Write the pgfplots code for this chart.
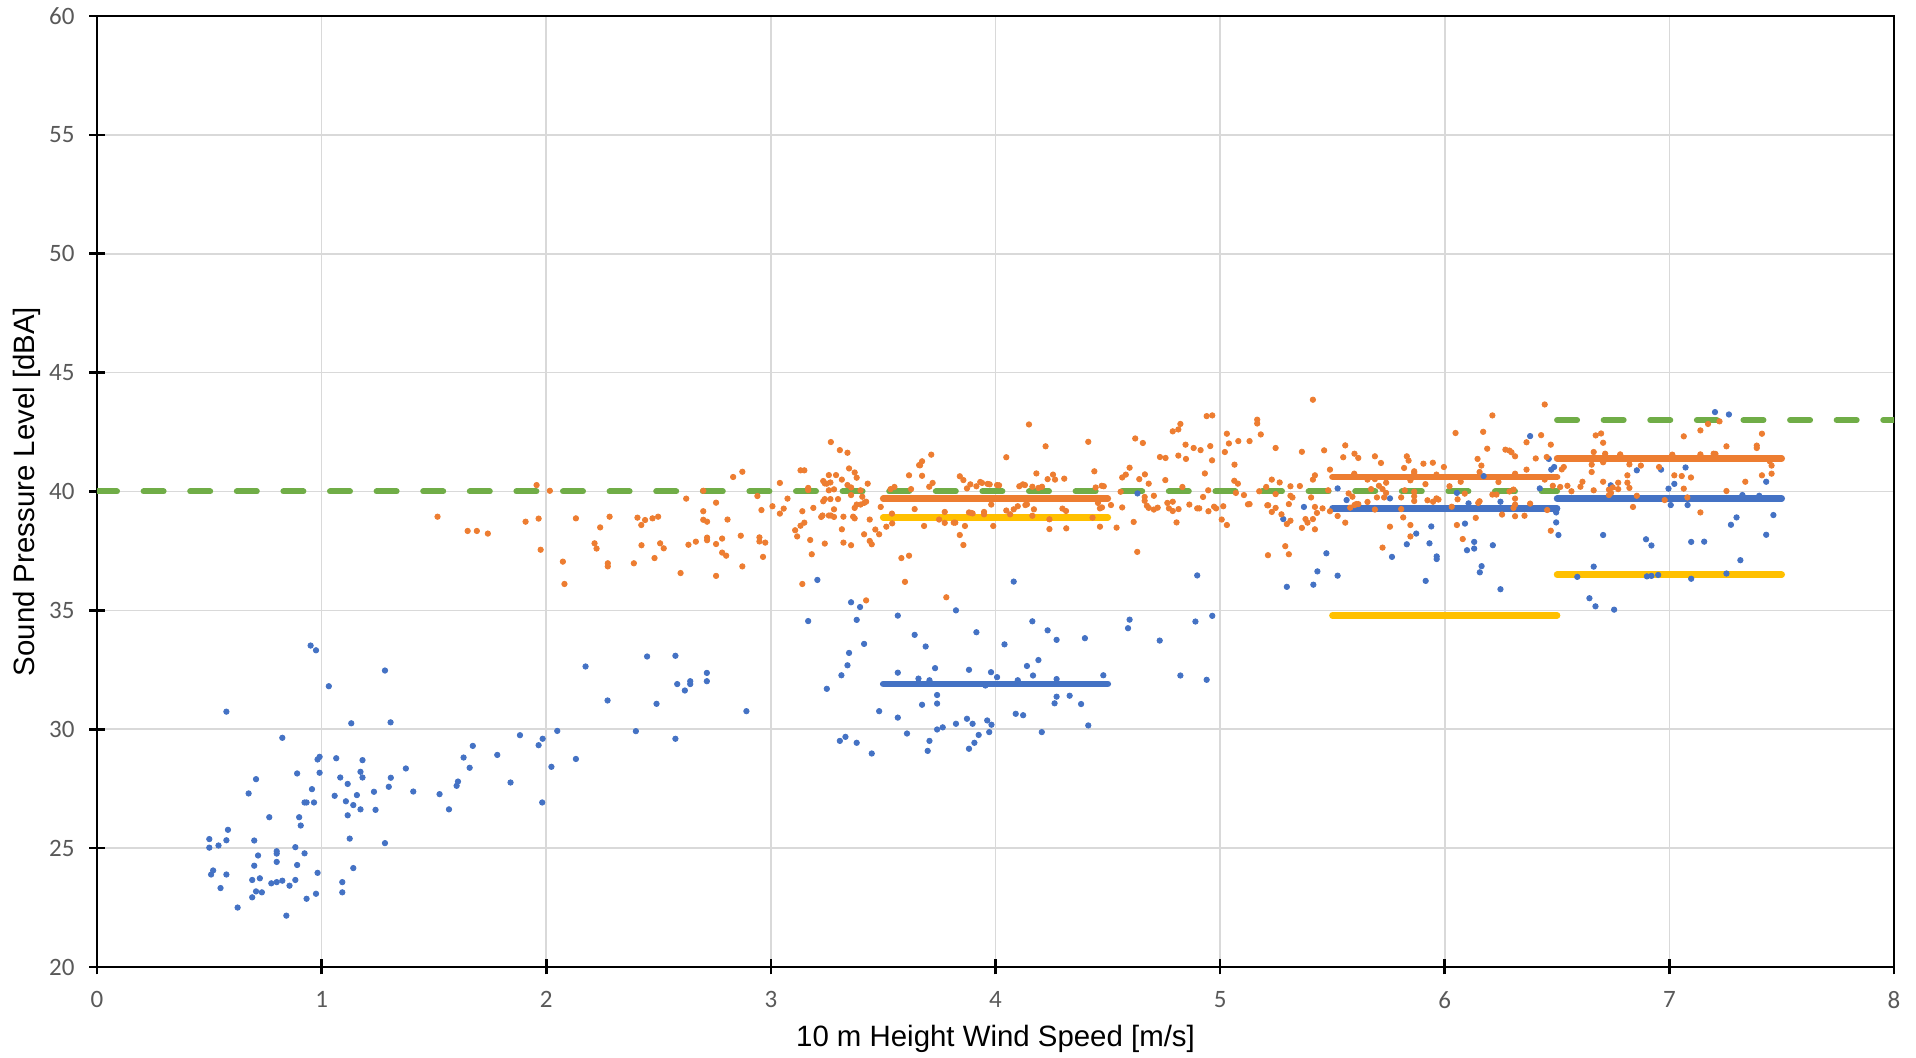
\documentclass[border=0pt]{standalone}
\usepackage{fontspec}
\setmainfont{Liberation Sans}
\newfontfamily\tickfont{Carlito}
\usepackage{pgfplots}
\pgfplotsset{compat=1.18}

\definecolor{xlblue}{HTML}{4472C4}
\definecolor{xlorange}{HTML}{ED7D31}
\definecolor{xlyellow}{HTML}{FFC000}
\definecolor{xlgreen}{HTML}{70AD47}
\definecolor{gridgray}{HTML}{D9D9D9}
\definecolor{tickgray}{HTML}{595959}

\begin{document}
\begin{tikzpicture}
\begin{axis}[
    scale only axis,
    width=898.5pt, height=475.5pt,
    xmin=0, xmax=8, ymin=20, ymax=60,
    xtick={0,1,...,8}, ytick={20,25,...,60},
    grid=major,
    major grid style={draw=gridgray, line width=0.8pt},
    axis line style={black, line width=1.3pt},
    tick align=center, tick pos=left,
    major tick length=7.5pt,
    tick style={black, line width=1.3pt},
    /pgf/number format/assume math mode=true,
    ticklabel style={font=\tickfont\fontsize{12.5}{14}\selectfont, text=tickgray},
    yticklabel style={xshift=-4pt},
    xticklabel style={yshift=-5pt},
    xlabel={10 m Height Wind Speed [m/s]},
    ylabel={Sound Pressure Level [dBA]},
    label style={font=\fontsize{14.7}{17}\selectfont, text=black},
    xlabel style={at={(axis description cs:0.5,-0.0757)}, anchor=center},
    ylabel style={at={(axis description cs:-0.039,0.5)}, anchor=center},
]
\coordinate (bl) at (rel axis cs:0,0);
\coordinate (tr) at (rel axis cs:1,1);

% limit lines
\addplot[xlgreen, line width=3pt, line cap=round, dash pattern=on 10pt off 13.3pt]
    coordinates {(0,40) (6.5,40)};
\addplot[xlgreen, line width=3pt, line cap=round, dash pattern=on 10pt off 13.3pt]
    coordinates {(6.5,43) (8,43)};

% bin averages
\addplot[xlyellow, line width=3.3pt, line cap=round] coordinates {(3.5,38.91) (4.5,38.91)};
\addplot[xlyellow, line width=3.3pt, line cap=round] coordinates {(5.5,34.79) (6.5,34.79)};
\addplot[xlyellow, line width=3.3pt, line cap=round] coordinates {(6.5,36.50) (7.5,36.50)};
\addplot[xlblue, line width=3.3pt, line cap=round] coordinates {(3.5,31.91) (4.5,31.91)};
\addplot[xlblue, line width=3.3pt, line cap=round] coordinates {(5.5,39.29) (6.5,39.29)};
\addplot[xlblue, line width=3.3pt, line cap=round] coordinates {(6.5,39.70) (7.5,39.70)};
\addplot[xlorange, line width=3.3pt, line cap=round] coordinates {(3.5,39.70) (4.5,39.70)};
\addplot[xlorange, line width=3.3pt, line cap=round] coordinates {(5.5,40.61) (6.5,40.61)};
\addplot[xlorange, line width=3.3pt, line cap=round] coordinates {(6.5,41.39) (7.5,41.39)};

% background noise measurements
\addplot[only marks, mark=*, mark size=1.35pt, xlblue, mark options={draw=none, fill=xlblue}]
coordinates {
(0.951,33.52) (0.975,33.32) (1.282,32.47) (1.032,31.81) (0.576,30.74) (1.132,30.25)
(1.307,30.29) (0.825,29.64) (2.175,32.64) (2.049,29.93) (1.984,29.60) (1.966,29.33)
(1.883,29.75) (1.782,28.92) (1.673,29.30) (1.632,28.81) (1.659,28.38) (1.607,27.80)
(1.601,27.62) (1.525,27.27) (1.567,26.63) (1.841,27.76) (2.023,28.42) (2.132,28.75)
(1.982,26.92) (1.375,28.35) (1.408,27.38) (1.308,27.96) (1.299,27.58) (1.233,27.37)
(1.240,26.61) (1.173,28.21) (1.182,28.70) (1.182,27.97) (1.157,27.23) (1.141,26.81)
(1.173,26.63) (1.108,26.97) (1.116,27.70) (1.116,26.38) (1.083,27.97) (1.065,28.78)
(0.991,28.84) (0.982,28.73) (0.991,28.17) (1.058,27.20) (0.957,27.48) (0.966,26.92)
(0.924,26.92) (0.933,26.92) (0.900,26.30) (0.907,25.95) (0.891,28.14) (0.767,26.30)
(0.708,27.90) (0.675,27.30) (1.125,25.40) (1.282,25.21) (1.141,24.16) (1.092,23.57)
(1.092,23.14) (0.982,23.96) (0.975,23.08) (0.933,22.87) (0.883,25.04) (0.924,24.78)
(0.891,24.29) (0.883,23.66) (0.857,23.42) (0.843,22.16) (0.825,23.63) (0.800,23.57)
(0.776,23.52) (0.800,24.87) (0.800,24.77) (0.800,24.42) (0.734,23.14) (0.708,23.18)
(0.691,22.93) (0.691,23.66) (0.725,23.73) (0.700,24.26) (0.717,24.69) (0.700,25.32)
(0.626,22.50) (0.550,23.32) (0.576,23.89) (0.576,25.33) (0.583,25.77) (0.541,25.11)
(0.500,25.38) (0.500,25.02) (0.508,23.89) (0.517,24.06)
(2.273,31.21) (2.491,31.07) (2.449,33.06) (2.575,33.09) (2.583,31.90) (2.617,31.63)
(2.641,32.02) (2.641,31.90) (2.715,32.37) (2.715,32.02) (2.891,30.76) (2.399,29.92)
(2.575,29.60) (3.207,36.28) (3.357,35.34) (3.397,35.14) (3.382,34.60) (3.166,34.55)
(3.565,34.78) (3.640,33.97) (3.415,33.59) (3.348,33.21) (3.341,32.69) (3.314,32.27)
(3.249,31.70) (3.565,32.38) (3.482,30.76) (3.565,30.49) (3.606,29.82) (3.307,29.51)
(3.332,29.68) (3.382,29.43) (3.449,28.98)
(3.689,33.48) (3.824,35.00) (3.915,34.08) (3.657,32.13) (3.731,32.57) (3.740,31.44)
(3.740,31.08) (3.673,31.03) (3.882,32.50) (3.980,32.40) (4.007,32.19) (3.955,31.84)
(3.706,32.06) (3.740,29.99) (3.765,30.08) (3.824,30.23) (3.873,30.44) (3.898,30.23)
(3.963,30.37) (3.982,30.19) (3.925,29.76) (3.972,29.88) (3.906,29.43) (3.882,29.18)
(3.706,29.51) (3.698,29.09) (4.081,36.21) (4.040,33.57) (4.164,34.54) (4.232,34.16)
(4.272,33.76) (4.398,33.83) (4.140,32.66) (4.191,32.91) (4.167,32.26) (4.099,32.06)
(4.272,32.11) (4.480,32.27) (4.272,31.37) (4.263,31.09) (4.330,31.41) (4.381,31.06)
(4.413,30.16) (4.090,30.65) (4.123,30.59) (4.206,29.88) (4.590,34.25) (4.597,34.61)
(4.731,33.73) (4.823,32.26) (4.890,34.53) (4.965,34.77) (4.940,32.08) (4.898,36.47)
(4.632,39.92)
(5.297,35.99) (5.415,36.08) (5.433,36.64) (5.473,37.40) (5.523,36.46) (5.281,38.84)
(5.373,39.35) (5.523,40.13) (5.563,39.64) (5.756,39.71) (5.765,37.25) (5.831,37.78)
(5.873,38.23) (5.915,36.24) (5.932,37.82) (5.940,38.53) (5.964,37.27) (5.964,37.16)
(6.054,39.94) (6.090,38.65) (6.099,37.53) (6.106,39.50) (6.131,37.88) (6.131,37.60)
(6.164,36.86) (6.156,36.60) (6.173,40.65) (6.214,37.74) (6.248,35.89) (6.248,39.57)
(6.380,42.33) (6.423,40.13) (6.463,41.37) (6.474,40.92) (6.487,41.03) (6.496,39.12)
(6.496,38.70) (6.506,38.17) (6.663,36.84) (6.590,36.41) (6.644,35.51) (6.671,35.17)
(6.754,35.03) (6.705,38.17) (6.739,40.26) (6.855,40.89) (6.896,37.99) (6.920,37.73)
(6.900,36.43) (6.920,36.45) (6.963,40.92)
(6.996,40.12) (7.022,40.32) (7.006,39.43) (7.072,41.01) (7.081,39.43) (7.097,37.88)
(7.155,37.89) (7.097,36.33) (6.950,36.49) (7.203,43.34) (7.265,43.24) (7.274,38.60)
(7.299,38.91) (7.316,37.11) (7.254,36.55) (7.431,40.41) (7.431,38.18) (7.463,39.01)
(7.400,39.82) (7.325,39.85)
};

% total noise measurements
\addplot[only marks, mark=*, mark size=1.35pt, xlorange, mark options={draw=none, fill=xlorange}]
coordinates {
(1.516,38.94) (1.650,38.34) (1.691,38.34) (1.740,38.23) (1.908,38.73) (1.957,40.27)
(1.966,38.86) (1.975,37.55) (2.016,40.03) (2.074,37.05) (2.081,36.11) (2.132,38.87)
(2.240,38.49) (2.282,38.94) (2.215,37.82) (2.224,37.60) (2.274,36.98) (2.274,36.85)
(2.390,36.98) (2.406,38.90) (2.440,38.80) (2.423,38.59) (2.473,38.87) (2.498,38.94)
(2.424,37.74) (2.507,37.82) (2.523,37.61) (2.482,37.20) (2.598,36.57) (2.623,39.70)
(2.633,37.76) (2.666,37.89)
(2.699,40.03) (2.699,39.17) (2.699,38.81) (2.716,38.73) (2.716,38.06) (2.716,37.95)
(2.756,39.53) (2.756,37.79) (2.756,36.45) (2.783,38.02) (2.783,37.43) (2.801,37.30)
(2.807,38.82) (2.832,40.61) (2.873,40.83) (2.866,38.14) (2.873,36.85) (2.940,39.81)
(2.958,39.22) (2.949,38.07) (2.949,37.90) (2.975,37.85) (2.965,37.25) (3.007,39.38)
(3.040,39.07) (3.057,39.28) (3.040,40.36) (3.074,39.70) (3.108,38.37) (3.117,38.11)
(3.132,38.56) (3.149,38.69) (3.140,39.17) (3.132,40.89) (3.149,40.89) (3.166,40.15)
(3.166,40.06) (3.189,39.31) (3.175,37.96) (3.182,37.36) (3.140,36.11) (3.240,37.81)
(3.224,38.93) (3.230,38.99) (3.258,38.99) (3.267,38.99) (3.281,38.93) (3.233,40.44)
(3.240,40.34) (3.267,42.08) (3.307,41.74) (3.341,41.63) (3.348,40.97) (3.373,40.80)
(3.382,40.58) (3.258,40.69) (3.290,40.69) (3.249,40.33) (3.265,40.38) (3.316,40.50)
(3.341,40.27) (3.281,40.09) (3.258,40.05) (3.240,39.68) (3.233,39.59) (3.265,39.68)
(3.299,39.68) (3.281,39.25) (3.316,38.41) (3.323,38.94) (3.366,38.94) (3.373,38.87)
(3.323,37.85) (3.357,37.74) (3.357,40.17) (3.399,40.05) (3.357,39.85) (3.407,39.78)
(3.382,39.45) (3.399,39.45) (3.415,39.52) (3.424,39.57) (3.373,39.31) (3.431,40.33)
(3.440,38.82) (3.415,38.20) (3.440,37.92) (3.449,37.78) (3.465,38.40) (3.482,38.20)
(3.489,39.35) (3.514,38.52) (3.424,35.42) (3.581,37.20) (3.597,36.20) (3.540,38.66)
(3.640,39.26) (3.615,40.68) (3.660,41.11) (3.550,40.19) (3.533,40.10) (3.624,40.10)
(3.539,39.07) (3.615,37.30) (3.664,41.10) (3.673,41.27) (3.673,40.66) (3.714,41.55)
(3.720,40.36) (3.705,40.20) (3.682,38.55) (3.749,38.82) (3.774,39.14) (3.774,38.68)
(3.781,35.55) (3.814,38.69) (3.821,38.69) (3.841,40.64) (3.857,40.48) (3.873,40.13)
(3.841,38.17) (3.857,37.75) (3.864,38.55) (3.882,39.12) (3.891,39.10) (3.898,39.08)
(3.888,40.30) (3.915,40.22) (3.932,40.40) (3.940,40.36) (3.965,40.32) (3.974,40.30)
(4.007,40.27) (4.016,40.26) (3.949,39.14) (3.949,39.04) (3.981,39.45) (3.990,38.55)
(4.048,41.44) (4.048,39.20) (4.065,39.04) (4.081,39.25) (4.099,39.38) (4.106,40.22)
(4.122,40.30) (4.131,40.27) (4.133,39.43) (4.140,39.46) (4.149,42.82) (4.164,40.20)
(4.171,39.25) (4.164,38.98) (4.182,40.76) (4.191,40.15) (4.207,40.20) (4.223,41.90)
(4.232,40.52) (4.256,40.71) (4.265,40.50) (4.240,38.83) (4.240,38.42) (4.298,39.28)
(4.314,39.18) (4.306,40.54) (4.315,38.45) (4.413,42.09) (4.440,40.85) (4.446,40.17)
(4.473,40.24) (4.482,40.22) (4.456,39.52) (4.432,38.90) (4.465,39.29) (4.474,39.33)
(4.465,38.52) (4.514,39.43) (4.539,38.48) (4.557,39.99) (4.564,40.59) (4.580,40.71)
(4.597,41.00) (4.564,39.33) (4.615,38.72) (4.622,42.23) (4.656,42.04) (4.631,37.46)
(4.640,40.52) (4.665,40.72) (4.682,40.33) (4.664,39.77) (4.664,39.61) (4.674,39.40)
(4.682,39.31) (4.705,39.82) (4.705,39.24) (4.722,39.32) (4.732,41.45) (4.757,41.41)
(4.756,40.48) (4.765,39.52) (4.772,39.29) (4.789,39.57) (4.789,39.18) (4.806,38.70)
(4.815,39.26) (4.789,42.53) (4.814,42.61) (4.823,42.84) (4.814,41.51) (4.832,40.19)
(4.846,41.97) (4.882,41.83) (4.913,41.74) (4.848,41.37) (4.863,39.45) (4.907,39.29)
(4.898,39.29) (4.924,39.77) (4.932,40.76) (4.947,40.05) (4.940,43.17) (4.965,43.20)
(4.948,39.17) (4.973,39.36) (4.982,39.29) (4.956,41.91) (4.964,41.31) (5.007,38.82)
(5.030,38.59) (5.014,39.38) (5.021,41.66) (5.030,42.43) (5.039,42.02) (5.081,42.12)
(5.064,41.13) (5.063,40.45) (5.079,40.33) (5.070,39.94) (5.106,39.85) (5.124,39.46)
(5.131,42.12) (5.165,43.02) (5.165,42.86) (5.181,42.40) (5.210,39.42) (5.213,37.32)
(5.205,40.19)
(5.174,40.01) (5.131,39.47) (5.214,39.42) (5.247,39.31) (5.230,39.14) (5.273,39.04)
(5.247,41.83) (5.230,40.50) (5.247,39.89) (5.265,40.38) (5.290,37.70) (5.306,37.36)
(5.297,38.63) (5.313,38.77) (5.306,39.47) (5.313,39.82) (5.322,39.75) (5.313,40.22)
(5.355,40.23) (5.364,41.67) (5.364,38.47) (5.380,38.84) (5.389,38.69) (5.405,39.75)
(5.413,43.86) (5.422,40.68) (5.413,40.50) (5.422,39.35) (5.431,39.10) (5.422,38.41)
(5.413,38.84) (5.456,39.29) (5.463,41.73) (5.489,40.92) (5.489,39.17) (5.481,40.05)
(5.523,38.97) (5.557,38.69) (5.548,41.44) (5.557,41.94) (5.572,39.92) (5.589,39.78)
(5.579,39.32) (5.598,39.43) (5.606,39.47) (5.615,39.47) (5.598,41.59) (5.615,41.41)
(5.597,40.75) (5.656,40.50) (5.689,40.52) (5.656,39.56) (5.672,40.10) (5.689,41.48)
(5.689,39.24) (5.698,39.75) (5.707,40.24) (5.723,40.10) (5.730,39.75) (5.739,40.37)
(5.739,39.94) (5.716,41.20) (5.723,37.64) (5.756,38.52) (5.806,39.75) (5.806,39.26)
(5.815,38.91) (5.819,40.99) (5.831,41.48) (5.839,41.30) (5.822,40.05) (5.847,38.59)
(5.847,38.11) (5.847,40.47) (5.864,40.85) (5.864,40.78) (5.864,39.99) (5.864,39.80)
(5.864,39.60) (5.905,41.17) (5.947,41.21) (5.914,40.31) (5.923,39.63) (5.948,39.57)
(5.963,39.71) (5.972,39.66) (5.963,40.71) (5.996,41.03) (6.021,40.22) (6.031,39.36)
(6.048,42.46) (6.054,38.59) (6.071,40.41) (6.057,39.67) (6.080,38.00) (6.089,39.91)
(6.138,38.89) (6.146,41.37) (6.155,40.82) (6.149,39.52) (6.155,39.59) (6.163,41.09)
(6.171,42.51) (6.189,41.80) (6.212,43.20) (6.212,39.87) (6.230,39.87) (6.239,40.40)
(6.255,39.03) (6.270,41.76) (6.288,41.72) (6.297,41.65) (6.313,41.48) (6.288,40.00)
(6.306,40.08) (6.313,39.70) (6.313,39.45) (6.306,39.31) (6.313,38.96) (6.313,40.75)
(6.355,38.98) (6.364,40.92) (6.364,42.07) (6.380,39.49) (6.405,41.39) (6.429,42.37)
(6.445,43.66) (6.445,40.50) (6.454,41.45) (6.456,39.22) (6.472,41.97) (6.472,38.35)
(6.481,40.24) (6.514,40.19) (6.521,40.93) (6.530,41.03) (6.546,40.24) (6.564,40.01)
(6.604,40.20) (6.613,40.41) (6.654,41.13) (6.654,40.82) (6.663,41.66) (6.672,42.36)
(6.696,42.44) (6.705,42.05) (6.705,41.23) (6.714,41.59) (6.663,40.05) (6.705,40.41)
(6.731,40.08) (6.731,39.85) (6.740,39.94) (6.748,40.17) (6.772,40.37) (6.772,40.10)
(6.781,41.56) (6.813,40.68) (6.813,40.37) (6.822,40.15) (6.822,41.14) (6.838,39.35)
(6.855,39.82) (6.873,41.09) (6.954,41.03) (6.979,39.64)
(7.013,41.55) (7.022,40.68) (7.055,40.65) (7.064,40.12) (7.064,42.32) (7.080,39.75)
(7.096,40.59) (7.138,42.57) (7.138,41.56) (7.138,39.12) (7.172,42.84) (7.197,41.59)
(7.205,41.58) (7.223,42.95) (7.254,41.90) (7.254,40.02) (7.338,40.41) (7.389,41.93)
(7.389,41.83) (7.412,42.43) (7.412,40.68) (7.447,41.27) (7.455,41.09) (7.455,40.75)
};
\end{axis}
\pgfresetboundingbox
\path ([xshift=-48.5pt,yshift=-45.5pt]bl) rectangle ([xshift=11pt,yshift=8pt]tr);
\end{tikzpicture}
\end{document}
